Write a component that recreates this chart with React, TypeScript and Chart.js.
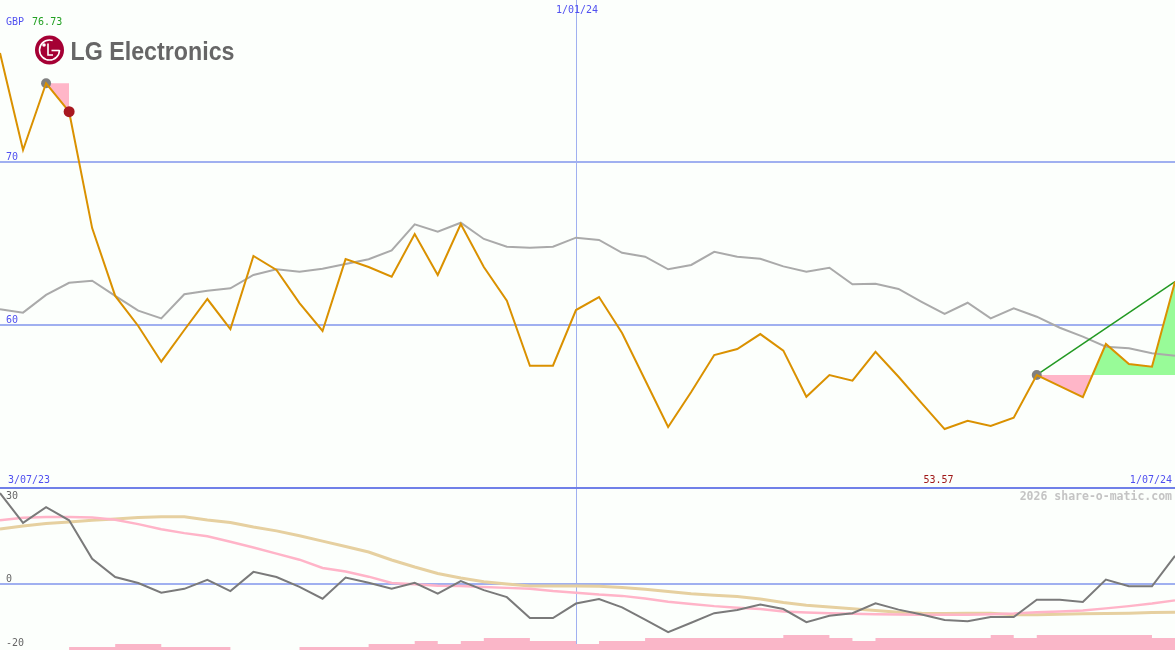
import React, { useEffect, useRef } from "react";
import { Chart, registerables } from "chart.js";
Chart.register(...registerables);

const dates = [
  "3/07/23", "10/07/23", "17/07/23", "24/07/23", "31/07/23", "7/08/23", "14/08/23", "21/08/23", "28/08/23", "4/09/23",
  "11/09/23", "18/09/23", "25/09/23", "2/10/23", "9/10/23", "16/10/23", "23/10/23", "30/10/23", "6/11/23", "13/11/23",
  "20/11/23", "27/11/23", "4/12/23", "11/12/23", "18/12/23", "1/01/24", "8/01/24", "15/01/24", "22/01/24", "29/01/24",
  "5/02/24", "12/02/24", "19/02/24", "26/02/24", "4/03/24", "11/03/24", "18/03/24", "25/03/24", "1/04/24", "8/04/24",
  "15/04/24", "22/04/24", "29/04/24", "6/05/24", "13/05/24", "20/05/24", "27/05/24", "3/06/24", "10/06/24", "17/06/24",
  "24/06/24", "1/07/24",
];

const price = [
  76.73, 70.76, 74.87, 73.12, 65.95, 61.77, 59.92, 57.72, 59.67, 61.58,
  59.73, 64.23, 63.37, 61.33, 59.61, 64.04, 63.55, 62.95, 65.58, 63.06,
  66.2, 63.55, 61.48, 57.47, 57.47, 60.9, 61.7, 59.49, 56.59, 53.7,
  55.85, 58.13, 58.5, 59.42, 58.4, 55.56, 56.9, 56.55, 58.33, 56.79,
  55.17, 53.57, 54.08, 53.76, 54.27, 56.9, 56.22, 55.54, 58.81, 57.58,
  57.41, 62.65,
];

const average = [
  60.95, 60.74, 61.83, 62.58, 62.71, 61.77, 60.86, 60.39, 61.87, 62.09,
  62.24, 63.06, 63.41, 63.26, 63.45, 63.74, 64.03, 64.57, 66.18, 65.73,
  66.28, 65.28, 64.8, 64.74, 64.8, 65.36, 65.22, 64.43, 64.19, 63.41,
  63.68, 64.49, 64.19, 64.06, 63.59, 63.26, 63.51, 62.49, 62.52, 62.2,
  61.41, 60.66, 61.35, 60.39, 61.01, 60.49, 59.81, 59.26, 58.64, 58.54,
  58.24, 58.09,
];

const momentum = [
  28.3, 19.0, 23.9, 19.8, 7.8, 2.1, 0.2, -2.8, -1.6, 1.2,
  -2.3, 3.7, 2.1, -1.0, -4.7, 1.9, 0.3, -1.6, 0.3, -3.1,
  0.8, -2.0, -4.2, -10.7, -10.7, -6.2, -4.8, -7.4, -11.2, -15.1,
  -12.2, -9.2, -8.2, -6.5, -7.9, -12.0, -10.0, -9.2, -6.1, -8.1,
  -9.6, -11.3, -11.7, -10.4, -10.4, -5.0, -5.0, -5.7, 1.3, -0.8,
  -0.8, 8.7,
];

const signal = [
  19.8, 20.6, 20.8, 20.8, 20.7, 20.0, 18.6, 17.0, 15.8, 14.8,
  13.1, 11.3, 9.4, 7.5, 4.9, 3.8, 2.2, 0.2, -0.2, -0.6,
  -0.7, -1.0, -1.3, -1.6, -2.3, -2.8, -3.4, -3.8, -4.6, -5.6,
  -6.3, -7.0, -7.5, -7.9, -8.7, -9.0, -9.2, -9.4, -9.5, -9.6,
  -9.7, -9.7, -9.7, -9.5, -9.3, -8.9, -8.7, -8.4, -7.7, -7.0,
  -6.2, -5.2,
];

const slow = [
  17.1, 18.0, 18.8, 19.3, 19.8, 20.2, 20.7, 20.9, 20.9, 19.9,
  19.1, 17.7, 16.5, 15.0, 13.3, 11.6, 9.9, 7.4, 5.2, 3.2,
  1.8, 0.6, -0.1, -0.7, -0.7, -0.7, -0.8, -1.2, -1.7, -2.4,
  -3.1, -3.6, -4.0, -4.8, -5.9, -6.7, -7.3, -7.8, -8.4, -8.9,
  -9.2, -9.3, -9.2, -9.2, -9.7, -9.7, -9.5, -9.4, -9.3, -9.2,
  -9.0, -8.9,
];

const volume = [
  0, 0, 0, 1, 1, 2, 2, 1, 1, 1,
  0, 0, 0, 1, 1, 1, 2, 2, 3, 2,
  3, 4, 4, 3, 3, 2, 3, 3, 4, 4,
  4, 4, 4, 4, 5, 5, 4, 3, 4, 4,
  4, 4, 4, 5, 4, 5, 5, 5, 5, 5,
  4, 4,
];

const mainTicks = [60, 70];
const lowerTicks = [30, 0, -20];
const dividerDate = "1/01/24";
const highIndex = 2;
const sellIndex = 3;
const trendStart = 45;
const currency = "GBP";
const company = "LG Electronics";
const watermark = "2026 share-o-matic.com";

const W = 1175;
const TOP_H = 487;
const LOW_H = 163;
const PAD = 2;
const BG = "rgb(252,255,252)";
const GRID = "rgb(160,176,240)";
const DIV = "rgb(112,128,232)";
const BLUE_TXT = "#5050f0";
const ORANGE = "rgb(218,145,0)";
const PINK = "rgb(255,182,200)";
const LIGHTGREEN = "rgb(152,251,152)";
const MONO = "DejaVu Sans Mono";

const only = (arr: number[], idx: number[]) => arr.map((v, i) => (idx.includes(i) ? v : null));
const range = (arr: number[], a: number, b: number) => arr.map((v, i) => (i >= a && i <= b ? v : null));
const markerRadius = (r: number) => (c: any) => (c.raw == null ? 0 : r);

function drawLogo(ctx: CanvasRenderingContext2D, L: number, T: number) {
  const cx = L + 49.5, cy = T + 50, r = 14.5;
  ctx.save();
  ctx.fillStyle = "#a50034";
  ctx.beginPath();
  ctx.arc(cx, cy, r, 0, Math.PI * 2);
  ctx.fill();
  ctx.strokeStyle = "#ffffff";
  ctx.fillStyle = "#ffffff";
  ctx.lineWidth = 1.6;
  ctx.beginPath();
  ctx.arc(cx, cy, 10, 0, Math.PI * 2 - 1.25);
  ctx.stroke();
  ctx.beginPath();
  ctx.moveTo(cx + 2, cy + 0.5);
  ctx.lineTo(cx + 10, cy + 0.5);
  ctx.stroke();
  ctx.beginPath();
  ctx.moveTo(cx - 1.5, cy - 6.5);
  ctx.lineTo(cx - 1.5, cy + 5);
  ctx.lineTo(cx + 3.5, cy + 5);
  ctx.stroke();
  ctx.beginPath();
  ctx.arc(cx - 5.5, cy - 5, 1.8, 0, Math.PI * 2);
  ctx.fill();
  ctx.font = "bold 26px 'Liberation Sans', Arial, sans-serif";
  ctx.fillStyle = "#666666";
  ctx.textBaseline = "alphabetic";
  ctx.textAlign = "left";
  ctx.fillText(company, L + 70.5, T + 59.5, 164);
  ctx.restore();
}

const topPlugin = {
  id: "topDecor",
  beforeDraw(chart: any) {
    const ctx = chart.ctx;
    ctx.save();
    ctx.fillStyle = BG;
    ctx.fillRect(0, 0, chart.width, chart.height);
    ctx.restore();
  },
  beforeDatasetsDraw(chart: any) {
    const ctx = chart.ctx;
    const x = chart.scales.x;
    const y = chart.scales.y;
    ctx.save();
    ctx.strokeStyle = GRID;
    ctx.lineWidth = 2;
    mainTicks.forEach((t) => {
      const py = Math.round(y.getPixelForValue(t));
      ctx.beginPath();
      ctx.moveTo(0, py);
      ctx.lineTo(chart.width, py);
      ctx.stroke();
    });
    const vx = Math.round(x.getPixelForValue(dates.indexOf(dividerDate))) + 0.5;
    ctx.lineWidth = 1;
    ctx.beginPath();
    ctx.moveTo(vx, 0);
    ctx.lineTo(vx, chart.height);
    ctx.stroke();
    ctx.restore();
  },
  afterDraw(chart: any) {
    const ctx = chart.ctx;
    const x = chart.scales.x;
    const y = chart.scales.y;
    const L = chart.chartArea.left;
    const R = chart.chartArea.right;
    const T = chart.chartArea.top;
    ctx.save();
    ctx.font = `10px '${MONO}', monospace`;
    ctx.textBaseline = "alphabetic";
    ctx.textAlign = "left";
    ctx.fillStyle = BLUE_TXT;
    mainTicks.forEach((t) => {
      ctx.fillText(String(t), L + 6, Math.round(y.getPixelForValue(t)) - 2);
    });
    ctx.fillText(currency, L + 6, T + 25);
    const maxV = Math.max(...price);
    const minV = Math.min(...price);
    ctx.fillStyle = "#22a022";
    ctx.fillText(maxV.toFixed(2), L + 6 + ctx.measureText(currency + " ").width + 2, T + 25);
    ctx.fillStyle = BLUE_TXT;
    ctx.fillText(dates[0], L + 8, T + 483);
    ctx.textAlign = "right";
    ctx.fillText(dates[dates.length - 1], R - 3, T + 483);
    ctx.textAlign = "center";
    ctx.fillText(dividerDate, x.getPixelForValue(dates.indexOf(dividerDate)) + 1, T + 13);
    ctx.textAlign = "right";
    ctx.fillStyle = "#a01818";
    ctx.fillText(minV.toFixed(2), x.getPixelForValue(price.indexOf(minV)) + 9, T + 483);
    ctx.restore();
    drawLogo(ctx, L, T);
  },
};

const lowPlugin = {
  id: "lowDecor",
  beforeDraw(chart: any) {
    const ctx = chart.ctx;
    ctx.save();
    ctx.fillStyle = BG;
    ctx.fillRect(0, 0, chart.width, chart.height);
    ctx.restore();
  },
  beforeDatasetsDraw(chart: any) {
    const ctx = chart.ctx;
    const x = chart.scales.x;
    const y = chart.scales.y;
    ctx.save();
    ctx.strokeStyle = GRID;
    ctx.lineWidth = 2;
    const py = Math.round(y.getPixelForValue(0));
    ctx.beginPath();
    ctx.moveTo(0, py);
    ctx.lineTo(chart.width, py);
    ctx.stroke();
    const vx = Math.round(x.getPixelForValue(dates.indexOf(dividerDate))) + 0.5;
    ctx.lineWidth = 1;
    ctx.beginPath();
    ctx.moveTo(vx, 0);
    ctx.lineTo(vx, chart.height);
    ctx.stroke();
    ctx.restore();
  },
  afterDraw(chart: any) {
    const ctx = chart.ctx;
    const y = chart.scales.y;
    const L = chart.chartArea.left;
    const R = chart.chartArea.right;
    const T = chart.chartArea.top;
    ctx.save();
    ctx.strokeStyle = DIV;
    ctx.lineWidth = 2;
    ctx.beginPath();
    ctx.moveTo(0, T + 1);
    ctx.lineTo(chart.width, T + 1);
    ctx.stroke();
    ctx.font = `10px '${MONO}', monospace`;
    ctx.fillStyle = "#666666";
    ctx.textAlign = "left";
    ctx.textBaseline = "alphabetic";
    lowerTicks.forEach((t) => {
      const by = Math.max(T + 12, Math.round(y.getPixelForValue(t)) - 2);
      ctx.fillText(String(t), L + 6, by);
    });
    ctx.font = `bold 11.5px '${MONO}', monospace`;
    ctx.fillStyle = "#c4c4c4";
    ctx.textAlign = "right";
    ctx.fillText(watermark, R - 3, T + 13);
    ctx.restore();
  },
};

const baseOptions = {
  responsive: false,
  maintainAspectRatio: false,
  animation: false as const,
  events: [] as any[],
  layout: { padding: PAD },
  plugins: { legend: { display: false }, tooltip: { enabled: false } },
  elements: { point: { radius: 0, hoverRadius: 0, hitRadius: 0 }, line: { tension: 0 } },
};

export default function App() {
  const topRef = useRef<HTMLCanvasElement | null>(null);
  const lowRef = useRef<HTMLCanvasElement | null>(null);

  useEffect(() => {
    document.body.style.margin = "0";
    const last = price.length - 1;
    const top = new Chart(topRef.current as HTMLCanvasElement, {
      type: "line",
      data: {
        labels: dates,
        datasets: [
          {
            data: only(price, [sellIndex]),
            showLine: false,
            pointRadius: markerRadius(5.5),
            pointBackgroundColor: "#a81820",
            pointBorderWidth: 0,
            borderWidth: 0,
            borderColor: "transparent",
          },
          {
            data: price,
            borderColor: ORANGE,
            borderWidth: 2,
            pointRadius: 0,
          },
          {
            data: only(price, [highIndex, trendStart]),
            showLine: false,
            pointRadius: markerRadius(5),
            pointBackgroundColor: "#808080",
            pointBorderWidth: 0,
            borderWidth: 0,
            borderColor: "transparent",
          },
          {
            data: only(price, [trendStart, last]),
            spanGaps: true,
            borderColor: "#229922",
            borderWidth: 1.5,
            pointRadius: 0,
          },
          {
            data: average,
            borderColor: "rgb(170,170,170)",
            borderWidth: 2,
            pointRadius: 0,
          },
          {
            data: range(price, trendStart, last),
            borderWidth: 0,
            borderColor: "transparent",
            pointRadius: 0,
            fill: { target: { value: price[trendStart] }, above: LIGHTGREEN, below: PINK },
          },
          {
            data: range(price, highIndex, sellIndex),
            borderWidth: 0,
            borderColor: "transparent",
            pointRadius: 0,
            fill: { target: { value: price[highIndex] }, above: PINK, below: PINK },
          },
        ] as any,
      },
      options: {
        ...baseOptions,
        scales: {
          x: { type: "category", display: false, offset: false },
          y: { display: false, min: 50, max: 80 },
        },
      } as any,
      plugins: [topPlugin],
    });

    const low = new Chart(lowRef.current as HTMLCanvasElement, {
      type: "line",
      data: {
        labels: dates,
        datasets: [
          { data: momentum, borderColor: "rgb(122,122,122)", borderWidth: 2, pointRadius: 0, yAxisID: "y" },
          { data: signal, borderColor: "rgb(255,180,200)", borderWidth: 2.5, pointRadius: 0, yAxisID: "y" },
          { data: slow, borderColor: "rgb(230,208,160)", borderWidth: 3, pointRadius: 0, yAxisID: "y" },
          {
            data: volume,
            yAxisID: "vol",
            stepped: "before",
            fill: "start",
            backgroundColor: "rgb(250,182,200)",
            borderColor: "transparent",
            borderWidth: 0,
            pointRadius: 0,
          },
        ] as any,
      },
      options: {
        ...baseOptions,
        scales: {
          x: { type: "category", display: false, offset: false },
          y: { display: false, min: -20.7, max: 30.2 },
          vol: { display: false, min: 0, max: LOW_H / 3 },
        },
      } as any,
      plugins: [lowPlugin],
    });

    return () => {
      top.destroy();
      low.destroy();
    };
  }, []);

  const cw = W + 2 * PAD;
  return (
    <div style={{ position: "relative", width: W, height: TOP_H + LOW_H, overflow: "hidden", background: BG }}>
      <canvas
        ref={topRef}
        width={cw}
        height={TOP_H + 2 * PAD}
        style={{ position: "absolute", left: -PAD, top: -PAD, width: cw, height: TOP_H + 2 * PAD }}
      />
      <canvas
        ref={lowRef}
        width={cw}
        height={LOW_H + 2 * PAD}
        style={{ position: "absolute", left: -PAD, top: TOP_H - PAD, width: cw, height: LOW_H + 2 * PAD }}
      />
    </div>
  );
}
